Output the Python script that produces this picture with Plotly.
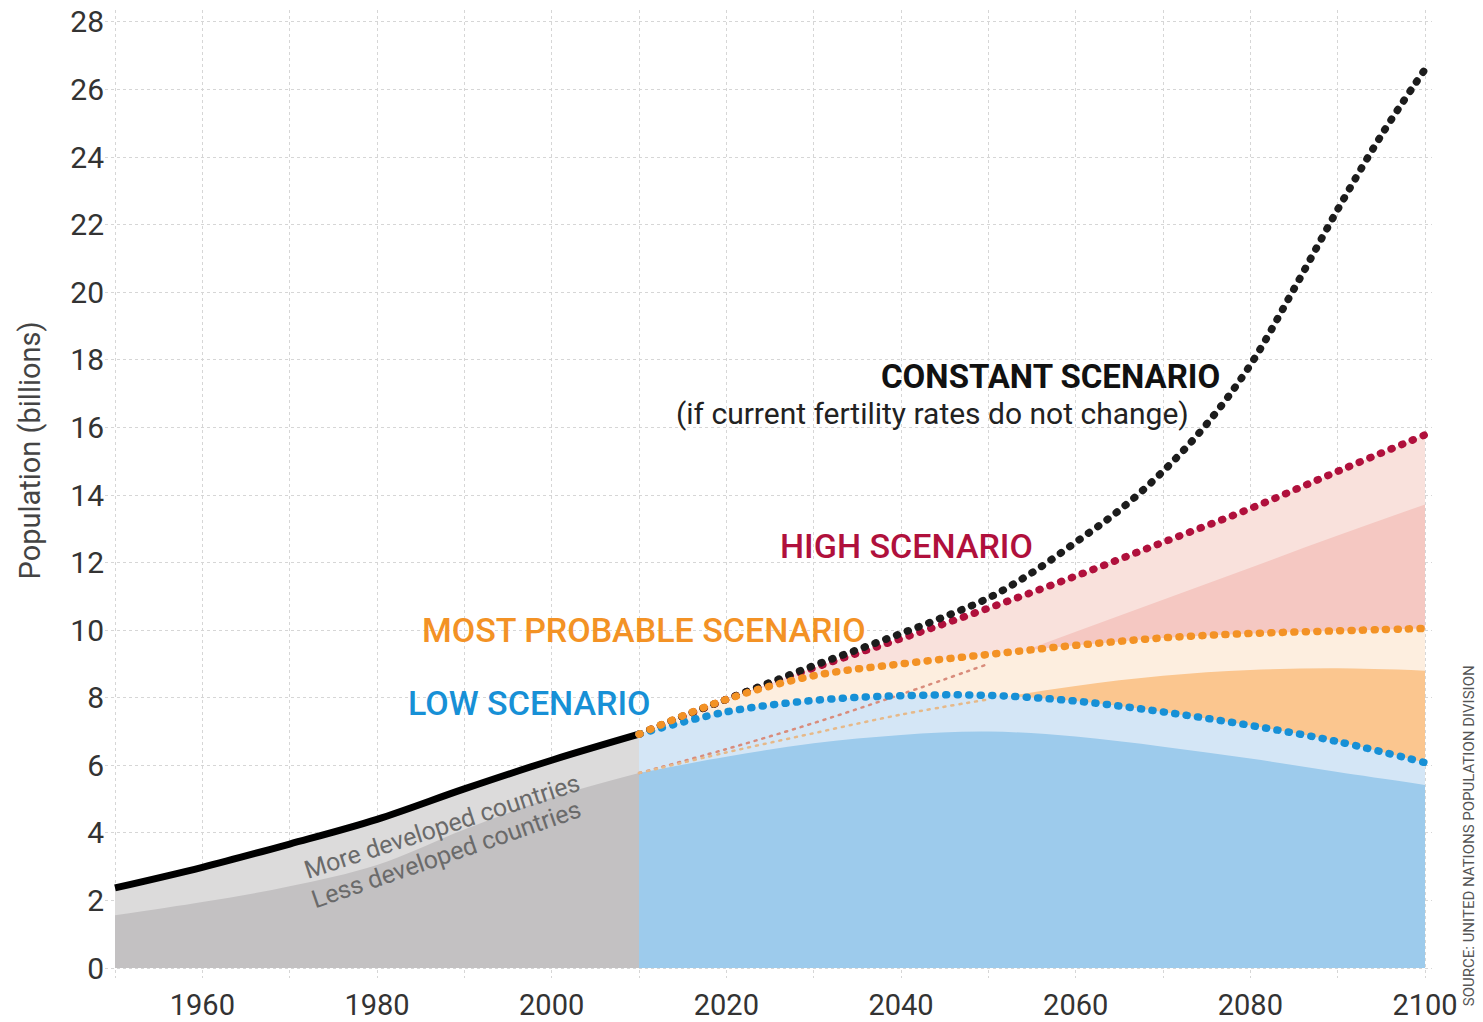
import plotly.graph_objects as go

# ---------------- data ----------------
years_hist = [1950, 1960, 1970, 1980, 1990, 2000, 2010]
total_hist = [2.37, 2.98, 3.67, 4.40, 5.30, 6.15, 6.92]
less_dev_hist = [1.56, 1.95, 2.42, 3.05, 4.10, 5.04, 5.77]

years_proj = [2010, 2020, 2030, 2040, 2050, 2060, 2070, 2080, 2090, 2100]
high = [6.92, 7.95, 8.88, 9.75, 10.65, 11.60, 12.60, 13.60, 14.70, 15.78]
medium = [6.92, 7.95, 8.65, 9.00, 9.28, 9.55, 9.77, 9.90, 9.98, 10.05]
low = [6.92, 7.58, 7.92, 8.06, 8.07, 7.90, 7.58, 7.18, 6.70, 6.08]
less_dev_high = [5.77, 6.48, 7.25, 8.10, 9.00, 9.95, 10.90, 11.85, 12.80, 13.72]
less_dev_medium = [5.77, 6.38, 6.95, 7.50, 7.95, 8.35, 8.65, 8.82, 8.87, 8.80]
less_dev_low = [5.77, 6.25, 6.65, 6.90, 7.00, 6.85, 6.55, 6.20, 5.80, 5.42]

years_const = [2010, 2015, 2020, 2025, 2030, 2035, 2040, 2045, 2050, 2055,
               2060, 2065, 2070, 2075, 2080, 2085, 2090, 2095, 2100]
constant = [6.92, 7.45, 7.95, 8.45, 8.95, 9.42, 9.90, 10.40, 10.95, 11.70,
            12.60, 13.55, 14.70, 16.10, 17.85, 20.10, 22.45, 24.65, 26.60]

hidden_until = 2050  # less-developed projections shown as faint dots until they emerge

x_ticks = list(range(1950, 2101, 10))
x_tick_text = ["" if y % 20 == 10 else str(y) for y in x_ticks]
x_tick_text[0] = ""
y_ticks = list(range(0, 29, 2))

# ---------------- styles ----------------
GRAY_L, GRAY_D = "#dcdbdb", "#c3c1c2"
PINK_L, PINK_D = "#f9e1dc", "#f5c8c2"
CREAM, ORANGE_A = "#fdeedf", "#fbc68f"
BLUE_L, BLUE_A = "#d4e6f6", "#9dcbec"
RED, ORANGE, BLUE, BLACK = "#b0103c", "#f39225", "#1790d6", "#1c1c1c"
DOTS = "1px,10.5px"
FONT = "Roboto, 'Open Sans', sans-serif"

fig = go.Figure()


def area(x, y, color):
    fig.add_trace(go.Scatter(x=x, y=y, mode="lines", fill="tozeroy",
                             fillcolor=color, line=dict(width=0, shape="spline"),
                             hoverinfo="skip"))


area(years_hist, total_hist, GRAY_L)
area(years_hist, less_dev_hist, GRAY_D)
area(years_proj, high, PINK_L)
area(years_proj, less_dev_high, PINK_D)
area(years_proj, medium, CREAM)
area(years_proj, less_dev_medium, ORANGE_A)
area(years_proj, low, BLUE_L)
area(years_proj, less_dev_low, BLUE_A)

idx = [i for i, y in enumerate(years_proj) if y <= hidden_until]
fig.add_trace(go.Scatter(x=[years_proj[i] for i in idx], y=[less_dev_high[i] for i in idx],
                         mode="lines", line=dict(color="#d98c7c", width=2.5, dash="2px,6px", shape="spline"),
                         hoverinfo="skip"))
fig.add_trace(go.Scatter(x=[years_proj[i] for i in idx], y=[less_dev_medium[i] for i in idx],
                         mode="lines", line=dict(color="#e6b989", width=2.5, dash="2px,6px", shape="spline"),
                         hoverinfo="skip"))

fig.add_trace(go.Scatter(x=years_hist, y=total_hist, mode="lines",
                         line=dict(color="#000000", width=7, shape="spline"), hoverinfo="skip"))


def dotted(x, y, color):
    fig.add_trace(go.Scatter(x=x, y=y, mode="lines",
                             line=dict(color=color, width=7.5, dash=DOTS, shape="spline"),
                             hoverinfo="skip"))


dotted(years_proj, high, RED)
dotted(years_const, constant, BLACK)
dotted(years_proj, low, BLUE)
dotted(years_proj, medium, ORANGE)

# ---------------- labels ----------------
def label(text, x, y, color, size, weight=500, xanchor="left", angle=0):
    fig.add_annotation(x=x, y=y, xref="x", yref="y", text=text, showarrow=False,
                       xanchor=xanchor, yanchor="middle", textangle=angle,
                       font=dict(family=FONT, size=size, color=color, weight=weight))


label("CONSTANT SCENARIO", 2076.8, 17.5, "#111111", 33, weight=700, xanchor="right")
label("(if current fertility rates do not change)", 2073.2, 16.4, "#222222", 30, weight=400, xanchor="right")
label("HIGH SCENARIO", 2025.9, 12.5, RED, 34)
label("MOST PROBABLE SCENARIO", 1984.9, 10.0, ORANGE, 34)
label("LOW SCENARIO", 1983.3, 7.85, BLUE, 34)
label("More developed countries", 1987.4, 4.2, "#6a6a6a", 25, weight=400, xanchor="center", angle=-18)
label("Less developed countries", 1987.9, 3.35, "#6a6a6a", 25, weight=400, xanchor="center", angle=-19)

fig.add_annotation(x=-0.0565, y=0.545, xref="paper", yref="paper", text="Population (billions)",
                   showarrow=False, textangle=-90, xanchor="center", yanchor="middle",
                   font=dict(family=FONT, size=29, color="#444444"))
fig.add_annotation(x=1.0275, y=0.147, xref="paper", yref="paper",
                   text="SOURCE: UNITED NATIONS POPULATION DIVISION",
                   showarrow=False, textangle=-90, xanchor="center", yanchor="middle",
                   font=dict(family=FONT, size=15, color="#555555"))

fig.update_layout(
    width=1483, height=1022,
    margin=dict(l=105, r=51, t=10, b=44, autoexpand=False),
    paper_bgcolor="white", plot_bgcolor="white",
    showlegend=False,
    xaxis=dict(range=[1948.855, 2100.8], tickvals=x_ticks, ticktext=x_tick_text,
               showgrid=True, gridcolor="#d6d6d6", griddash="dot", gridwidth=1,
               zeroline=False, showline=False, ticks="", ticklabelstandoff=7,
               automargin=False, ticklabeloverflow="allow",
               tickfont=dict(family=FONT, size=29, color="#333333")),
    yaxis=dict(range=[-0.296, 28.355], tickvals=y_ticks,
               showgrid=True, gridcolor="#d6d6d6", griddash="dot", gridwidth=1,
               zeroline=False, showline=False, ticks="", automargin=False,
               ticklabeloverflow="allow",
               tickfont=dict(family=FONT, size=30, color="#333333")),
)

post = """
document.body.style.margin = '0';
document.body.style.padding = '0';
document.body.style.overflow = 'hidden';
var gd = document.getElementById('{plot_id}');
function roundDots(){
  gd.querySelectorAll('.scatterlayer .js-line').forEach(function(p){
    var d = p.style.strokeDasharray || '';
    if (d.indexOf('10.5') !== -1 || d.indexOf('6px') !== -1) { p.style.strokeLinecap = 'round'; }
  });
}
roundDots();
gd.on('plotly_afterplot', roundDots);
"""
fig.write_html("out.html", post_script=post, config={"displayModeBar": False})
